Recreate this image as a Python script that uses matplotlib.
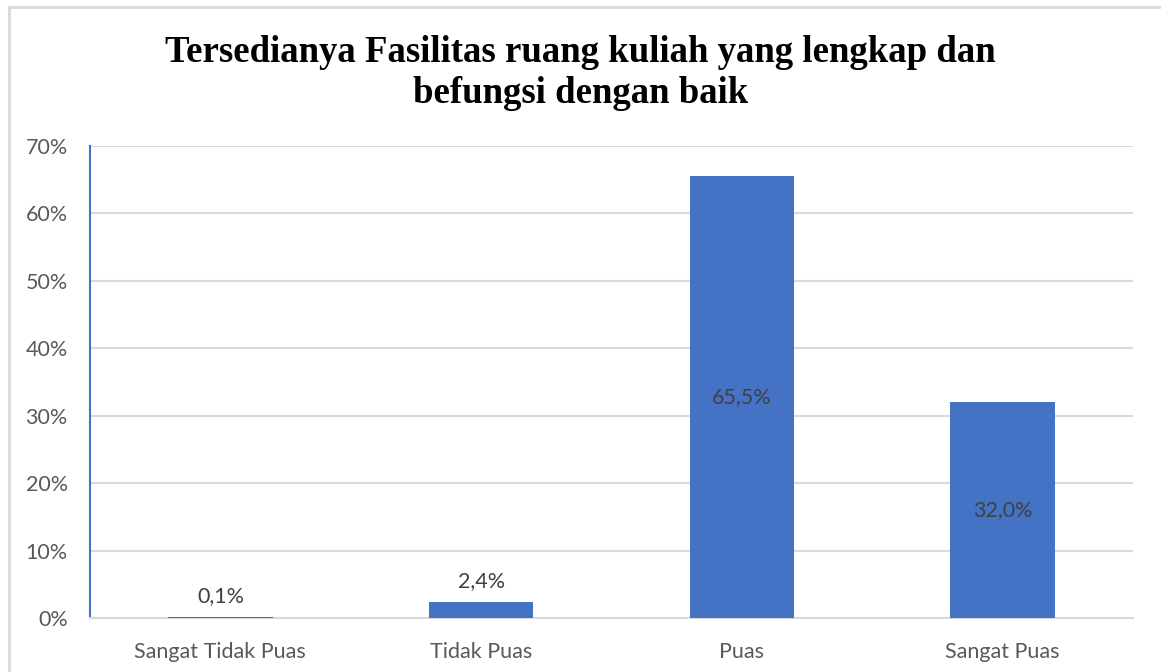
import matplotlib
matplotlib.use("Agg")
from matplotlib import pyplot as plt
from matplotlib.patches import Rectangle
from matplotlib.ticker import FuncFormatter

categories = ["Sangat Tidak Puas", "Tidak Puas", "Puas", "Sangat Puas"]
values = [0.1, 2.4, 65.5, 32.0]
labels = ["0,1%", "2,4%", "65,5%", "32,0%"]
yticks = [0, 10, 20, 30, 40, 50, 60, 70]

BLUE = "#4472C4"
GRID = "#d9d9d9"
TXT = "#595959"

W, H = 1161, 672
fig = plt.figure(figsize=(W / 100, H / 100), dpi=100)

# outer chart frame (only top & left edge visible in the reference)
fig.patches.append(Rectangle((9 / W, -0.1), 1.2, (H - 7) / H + 0.1, transform=fig.transFigure,
                             fill=False, edgecolor="#d9d9d9", linewidth=2))

ax = fig.add_axes([90 / W, (H - 618) / H, (1133 - 90) / W, (618 - 146) / H])
x = range(len(categories))
ax.bar(x, values, width=0.4, color=BLUE, zorder=3)
ax.set_xlim(-0.5, 3.5)
ax.set_ylim(0, 70)
ax.set_yticks(yticks)
ax.yaxis.set_major_formatter(FuncFormatter(lambda v, p: f"{int(v)}%"))
ax.set_xticks(list(x))
ax.set_xticklabels(categories)
ax.grid(axis="y", color=GRID, linewidth=1.5, zorder=0)
ax.tick_params(length=0, labelsize=15.5, labelcolor=TXT)
ax.tick_params(axis="x", pad=17)
ax.tick_params(axis="y", pad=16)
for lab in ax.get_xticklabels() + ax.get_yticklabels():
    lab.set_family("Lato")

for s in ["top", "right"]:
    ax.spines[s].set_visible(False)
ax.spines["left"].set_color(BLUE)
ax.spines["left"].set_linewidth(1.5)
ax.spines["bottom"].set_color(GRID)
ax.spines["bottom"].set_linewidth(1.5)

# data labels: small bars above, big bars centred
for i, (v, t) in enumerate(zip(values, labels)):
    if v < 10:
        ax.annotate(t, (i, v), xytext=(0, 8), textcoords="offset points", ha="center",
                    va="bottom", fontsize=15.5, color="#404040", family="Lato")
    else:
        ax.text(i, v / 2, t, ha="center", va="center", fontsize=15.5, color="#404040", family="Lato")

fig.text(0.5, 1 - 73 / H, "Tersedianya Fasilitas ruang kuliah yang lengkap dan\nbefungsi dengan baik",
         ha="center", va="center", fontsize=26.5, fontweight="bold", family="Liberation Serif",
         linespacing=1.25)

fig.savefig("out.png", dpi=100, facecolor="white")
